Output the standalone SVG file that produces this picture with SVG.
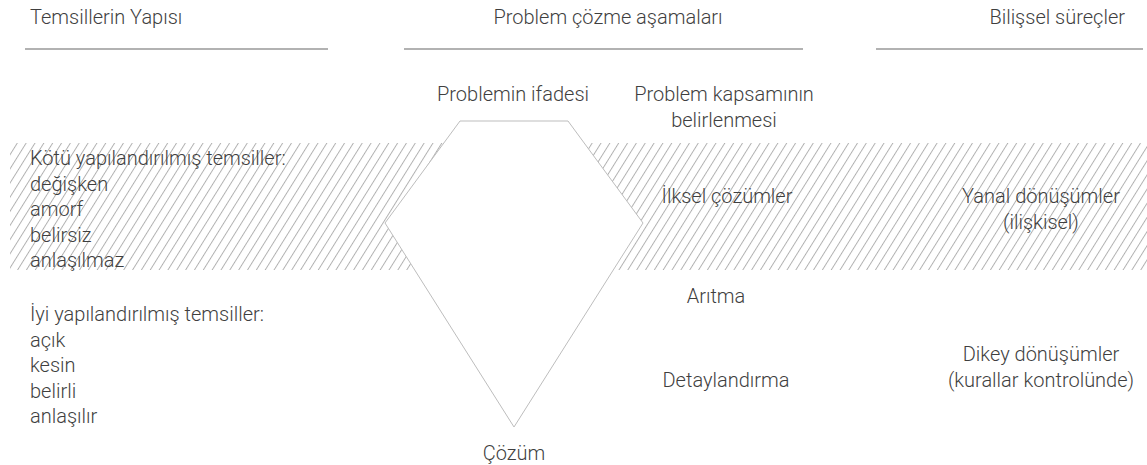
<svg xmlns="http://www.w3.org/2000/svg" width="1147" height="465" viewBox="0 0 1147 465">
  <style>
    .t { font-family: Roboto, "Liberation Sans", Arial, sans-serif; font-weight: 300; font-size: 20px; fill: #3f3f3f; }
    .m { text-anchor: middle; }
    .e { text-anchor: end; }
    .rule { stroke: #666; stroke-width: 1.2; fill: none; }
    .shape { fill: #fff; stroke: #bdbdbd; stroke-width: 1; }
  </style>
  <defs>
    <pattern id="hatch" patternUnits="userSpaceOnUse" width="7.5" height="10" patternTransform="rotate(32)">
      <line x1="0.5" y1="-1" x2="0.5" y2="11" stroke="#a8a8a8" stroke-width="0.9"/>
    </pattern>
  </defs>

  <rect width="1147" height="465" fill="#fff"/>

  <!-- column headers -->
  <g id="headers">
    <text class="t" x="30" y="24">Temsillerin Yapısı</text>
    <text class="t m" x="608" y="24">Problem çözme aşamaları</text>
    <text class="t e" x="1125" y="24">Bilişsel süreçler</text>
    <line class="rule" x1="25" y1="49" x2="328" y2="49"/>
    <line class="rule" x1="404" y1="49" x2="803" y2="49"/>
    <line class="rule" x1="876" y1="49" x2="1143" y2="49"/>
  </g>

  <!-- hatched band for ill-structured stage -->
  <rect id="band" x="10" y="143" width="1137" height="127" fill="url(#hatch)"/>

  <!-- problem-solving funnel -->
  <g id="funnel">
    <polygon class="shape" points="460,121 568,121 643,223 514,427 385,223"/>
  </g>

  <g id="stages">
    <text class="t m" x="513" y="101">Problemin ifadesi</text>
    <text class="t m" x="724" y="101">Problem kapsamının</text>
    <text class="t m" x="724" y="127">belirlenmesi</text>
    <text class="t m" x="727" y="203">İlksel çözümler</text>
    <text class="t m" x="716" y="303">Arıtma</text>
    <text class="t m" x="726" y="387">Detaylandırma</text>
    <text class="t m" x="514" y="460">Çözüm</text>
  </g>

  <g id="ill-structured">
    <text class="t" x="30" y="165">Kötü yapılandırılmış temsiller:</text>
    <text class="t" x="30" y="190.5">değişken</text>
    <text class="t" x="30" y="216">amorf</text>
    <text class="t" x="30" y="241.5">belirsiz</text>
    <text class="t" x="30" y="267">anlaşılmaz</text>
  </g>

  <g id="well-structured">
    <text class="t" x="30" y="321">İyi yapılandırılmış temsiller:</text>
    <text class="t" x="30" y="346.5">açık</text>
    <text class="t" x="30" y="372">kesin</text>
    <text class="t" x="30" y="397.5">belirli</text>
    <text class="t" x="30" y="423">anlaşılır</text>
  </g>

  <g id="processes">
    <text class="t m" x="1041" y="203">Yanal dönüşümler</text>
    <text class="t m" x="1041" y="229">(ilişkisel)</text>
    <text class="t m" x="1041" y="361">Dikey dönüşümler</text>
    <text class="t m" x="1041" y="387">(kurallar kontrolünde)</text>
  </g>

  <g id="connectors"/>
</svg>
